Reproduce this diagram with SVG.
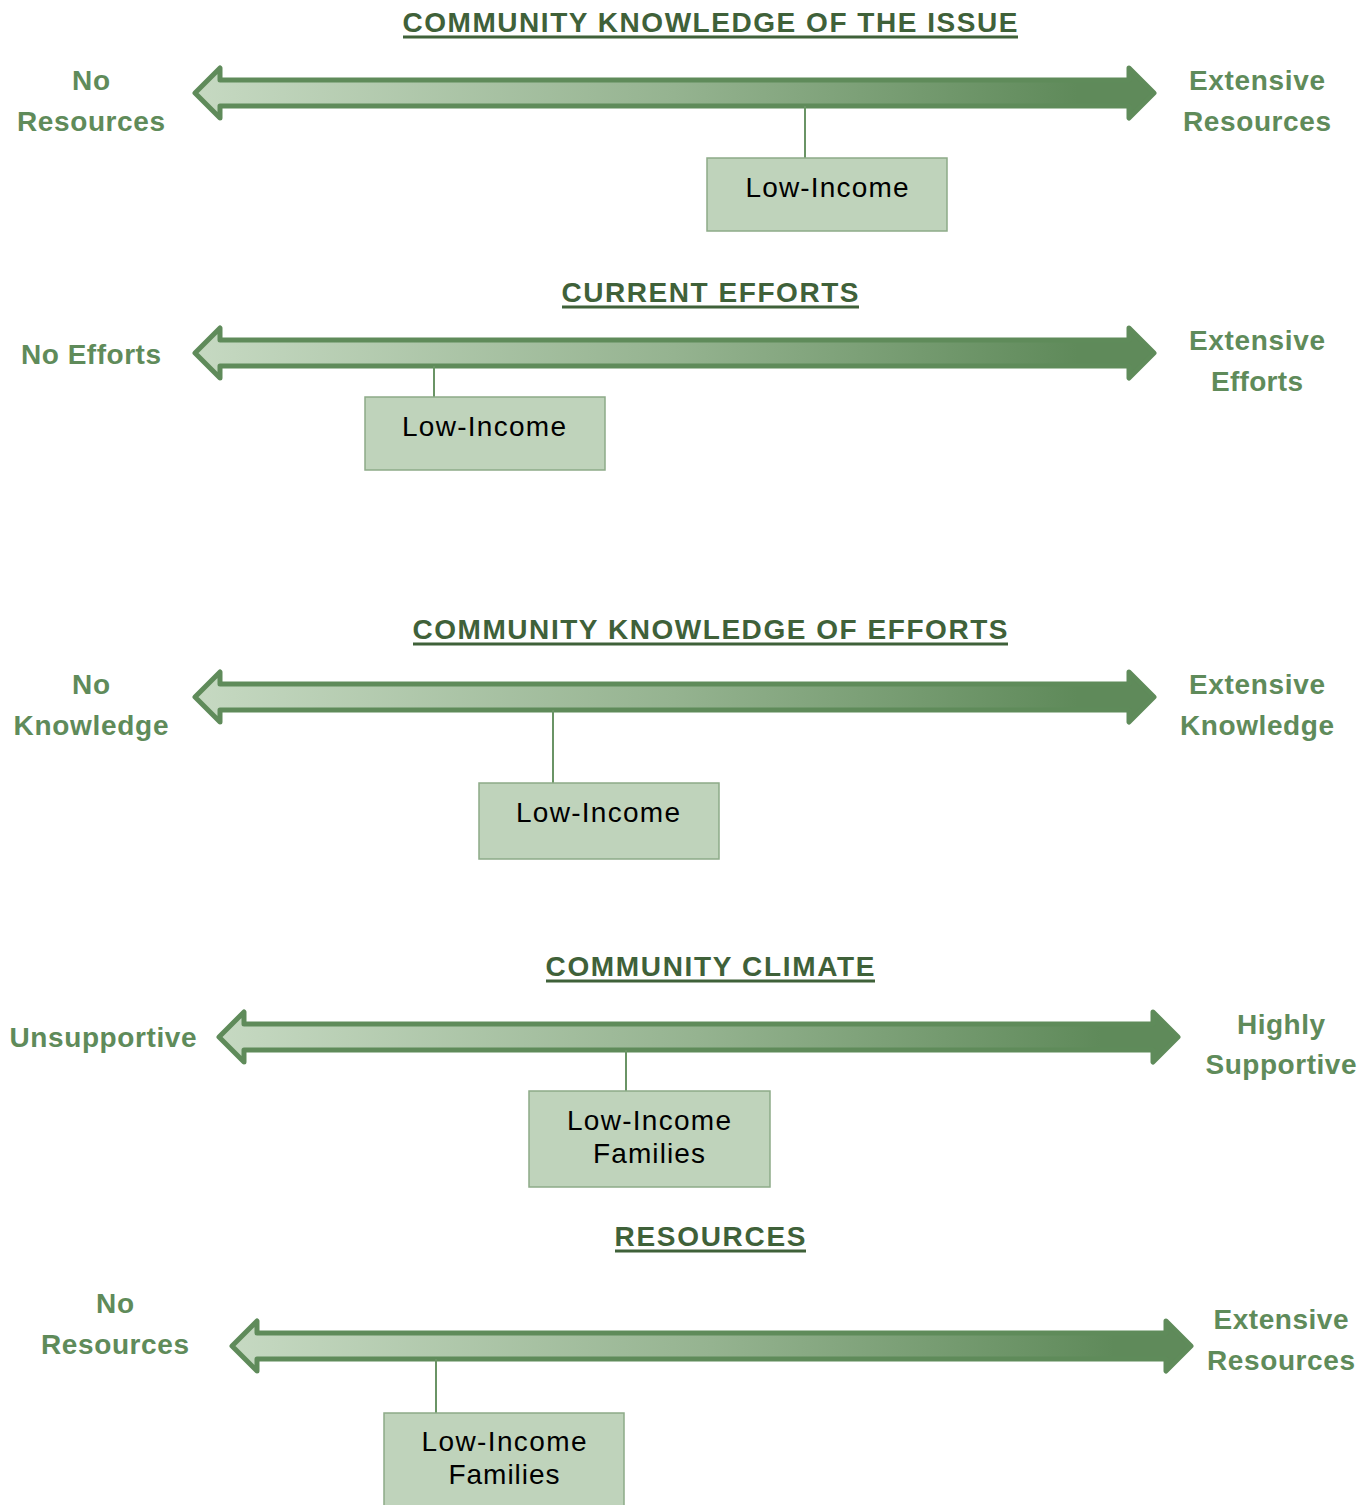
<svg xmlns="http://www.w3.org/2000/svg" width="1369" height="1505" viewBox="0 0 1369 1505">
<defs>
<linearGradient id="g" x1="0" y1="0" x2="1" y2="0">
<stop offset="0" stop-color="#c6d9c2"/>
<stop offset="0.5" stop-color="#95b390"/>
<stop offset="0.92" stop-color="#5f8a5a"/>
<stop offset="1" stop-color="#5f8a5a"/>
</linearGradient>
<style>
.arrow{fill:url(#g);stroke:#5f8b5a;stroke-width:5;stroke-linejoin:round}
.title{font-family:"Liberation Sans",Arial,sans-serif;font-weight:bold;font-size:28px;fill:#3f6139;text-anchor:middle}
.ul{stroke:#3f6139;stroke-width:3}
.side{font-family:"Liberation Sans",Arial,sans-serif;font-weight:bold;font-size:28px;fill:#5f8b5a;text-anchor:middle}
.box{fill:#bfd3bb;stroke:#8dab88;stroke-width:1.5}
.bt{font-family:"Liberation Sans",Arial,sans-serif;font-size:28px;fill:#000;text-anchor:middle}
.conn{stroke:#6a9465;stroke-width:2;fill:none}
</style>
</defs>
<rect width="1369" height="1505" fill="#fff"/>

<g id="titles">
<text class="title" x="710" y="32" textLength="615" lengthAdjust="spacing">COMMUNITY KNOWLEDGE OF THE ISSUE</text>
<line class="ul" x1="403" y1="37" x2="1018" y2="37"/>
<text class="title" x="710" y="302" textLength="297" lengthAdjust="spacing">CURRENT EFFORTS</text>
<line class="ul" x1="562" y1="307" x2="859" y2="307"/>
<text class="title" x="710" y="639" textLength="595" lengthAdjust="spacing">COMMUNITY KNOWLEDGE OF EFFORTS</text>
<line class="ul" x1="413" y1="644" x2="1008" y2="644"/>
<text class="title" x="710" y="976" textLength="329" lengthAdjust="spacing">COMMUNITY CLIMATE</text>
<line class="ul" x1="546" y1="981" x2="875" y2="981"/>
<text class="title" x="710" y="1246" textLength="191" lengthAdjust="spacing">RESOURCES</text>
<line class="ul" x1="615" y1="1251" x2="806" y2="1251"/>
</g>

<g id="arrows">
<polygon id="arrow1" class="arrow" points="195,93 220,68 220,80 1129,80 1129,68 1154,93 1129,118 1129,106 220,106 220,118"/>
<polygon id="arrow2" class="arrow" points="195,353 220,328 220,340 1129,340 1129,328 1154,353 1129,378 1129,366 220,366 220,378"/>
<polygon id="arrow3" class="arrow" points="195,697 220,672 220,684 1129,684 1129,672 1154,697 1129,722 1129,710 220,710 220,722"/>
<polygon id="arrow4" class="arrow" points="219,1037 244,1012 244,1024 1153,1024 1153,1012 1178,1037 1153,1062 1153,1050 244,1050 244,1062"/>
<polygon id="arrow5" class="arrow" points="232,1346 257,1321 257,1333 1166,1333 1166,1321 1191,1346 1166,1371 1166,1359 257,1359 257,1371"/>
</g>

<g id="side-labels">
<text class="side" x="91" y="90" textLength="38" lengthAdjust="spacing">No</text>
<text class="side" x="91" y="131" textLength="148" lengthAdjust="spacing">Resources</text>
<text class="side" x="1257" y="90" textLength="136" lengthAdjust="spacing">Extensive</text>
<text class="side" x="1257" y="131" textLength="148" lengthAdjust="spacing">Resources</text>

<text class="side" x="91" y="364" textLength="140" lengthAdjust="spacing">No Efforts</text>
<text class="side" x="1257" y="350" textLength="136" lengthAdjust="spacing">Extensive</text>
<text class="side" x="1257" y="391" textLength="92" lengthAdjust="spacing">Efforts</text>

<text class="side" x="91" y="694" textLength="38" lengthAdjust="spacing">No</text>
<text class="side" x="91" y="735" textLength="155" lengthAdjust="spacing">Knowledge</text>
<text class="side" x="1257" y="694" textLength="136" lengthAdjust="spacing">Extensive</text>
<text class="side" x="1257" y="735" textLength="154" lengthAdjust="spacing">Knowledge</text>

<text class="side" x="103" y="1047" textLength="187" lengthAdjust="spacing">Unsupportive</text>
<text class="side" x="1281" y="1034" textLength="88" lengthAdjust="spacing">Highly</text>
<text class="side" x="1281" y="1074" textLength="151" lengthAdjust="spacing">Supportive</text>

<text class="side" x="115" y="1313" textLength="38" lengthAdjust="spacing">No</text>
<text class="side" x="115" y="1354" textLength="148" lengthAdjust="spacing">Resources</text>
<text class="side" x="1281" y="1329" textLength="135" lengthAdjust="spacing">Extensive</text>
<text class="side" x="1281" y="1370" textLength="148" lengthAdjust="spacing">Resources</text>
</g>

<g id="connectors">
<line class="conn" x1="805" y1="106" x2="805" y2="158"/>
<line class="conn" x1="434" y1="366" x2="434" y2="397"/>
<line class="conn" x1="553" y1="710" x2="553" y2="783"/>
<line class="conn" x1="626" y1="1050" x2="626" y2="1091"/>
<line class="conn" x1="436" y1="1359" x2="436" y2="1413"/>
</g>

<g id="box1">
<rect class="box" x="707" y="158" width="240" height="73"/>
<text class="bt" x="827" y="197" textLength="163" lengthAdjust="spacing">Low-Income</text>
</g>
<g id="box2">
<rect class="box" x="365" y="397" width="240" height="73"/>
<text class="bt" x="484" y="436" textLength="164" lengthAdjust="spacing">Low-Income</text>
</g>
<g id="box3">
<rect class="box" x="479" y="783" width="240" height="76"/>
<text class="bt" x="598" y="822" textLength="164" lengthAdjust="spacing">Low-Income</text>
</g>
<g id="box4">
<rect class="box" x="529" y="1091" width="241" height="96"/>
<text class="bt" x="649" y="1130" textLength="164" lengthAdjust="spacing">Low-Income</text>
<text class="bt" x="649" y="1163" textLength="112" lengthAdjust="spacing">Families</text>
</g>
<g id="box5">
<rect class="box" x="384" y="1413" width="240" height="100"/>
<text class="bt" x="504" y="1451" textLength="165" lengthAdjust="spacing">Low-Income</text>
<text class="bt" x="504" y="1484" textLength="111" lengthAdjust="spacing">Families</text>
</g>
</svg>
